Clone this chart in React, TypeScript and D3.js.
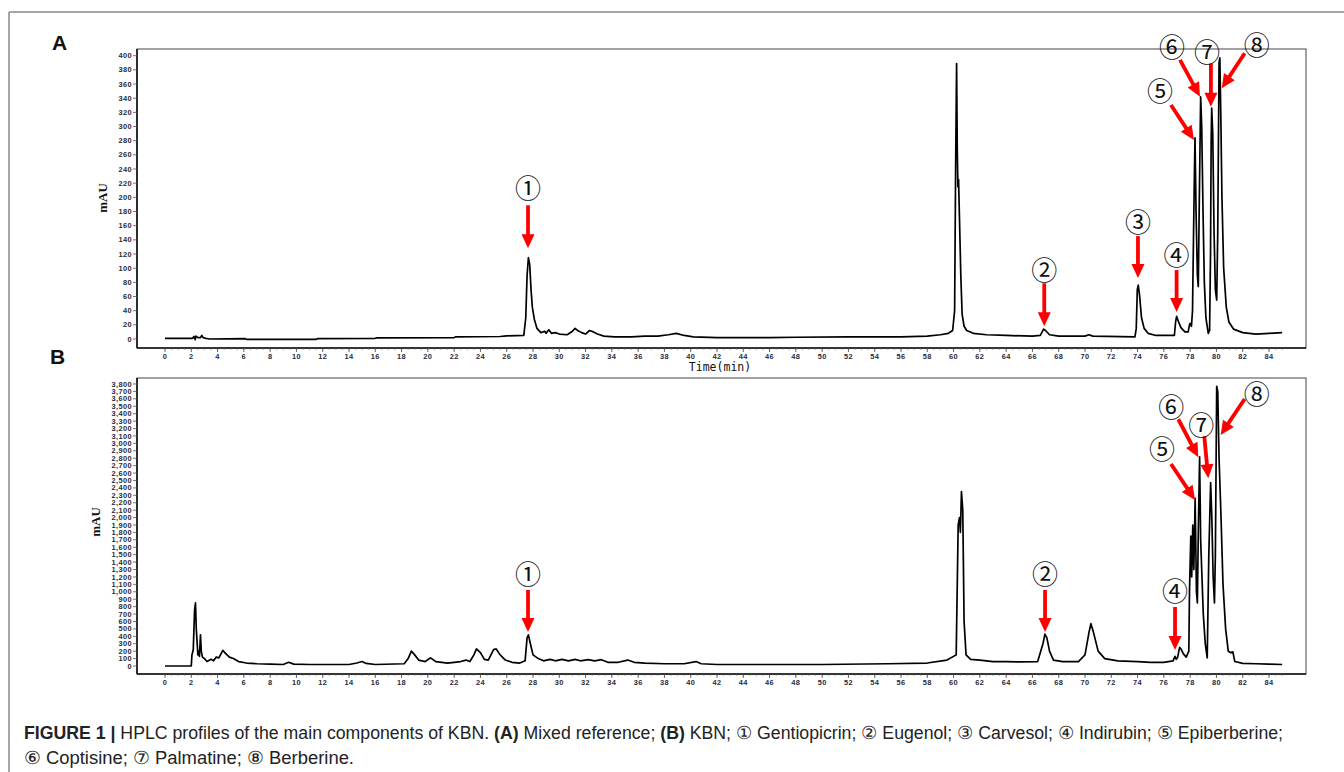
import React from "react";
import * as d3 from "d3";

// ---------- DATA ----------
const xTickLabels = [0,2,4,6,8,10,12,14,16,18,20,22,24,26,28,30,32,34,36,38,40,42,44,46,48,50,52,54,56,58,60,62,64,66,68,70,72,74,76,78,80,82,84];
const yTicksA = [0,20,40,60,80,100,120,140,160,180,200,220,240,260,280,300,320,340,360,380,400];
const yTicksB = [0,100,200,300,400,500,600,700,800,900,1000,1100,1200,1300,1400,1500,1600,1700,1800,1900,2000,2100,2200,2300,2400,2500,2600,2700,2800,2900,3000,3100,3200,3300,3400,3500,3600,3700,3800];

// Panel A: mixed reference, [time (min), mAU]
const traceA: [number, number][] = [
  [0,1],[2.1,1],[2.2,3.5],[2.3,-1],[2.35,4],[2.5,2],[2.7,2],[2.8,5],[2.9,2],[3.1,1],[3.4,0],
  [6.1,0.5],[6.2,-0.5],[11.5,-0.5],[11.6,0.5],[16,1],[16.1,1.5],[22,2],[22.1,3],[25.5,3.5],[26,4.5],
  [27.3,5],[27.45,30],[27.55,90],[27.65,115],[27.75,105],[27.85,70],[27.95,45],[28.1,28],[28.3,15],
  [28.6,9],[28.9,11],[29.0,8],[29.2,13],[29.4,8],[29.7,9],[30.0,7],[30.6,6],[31.0,11],[31.2,15],
  [31.4,12],[31.7,9],[32.0,7],[32.3,12],[32.6,10],[32.9,7],[33.4,4],[34.2,3],[35.5,3],[36.5,4],
  [37.5,4],[38.3,6],[38.9,8],[39.5,5],[40.2,3],[42,2],[46,2],[48,2.5],[52,3],[56,3],[58,4],[59,6],
  [59.6,8],[59.93,12],[60.08,40],[60.16,250],[60.23,389],[60.28,270],[60.33,215],[60.38,225],
  [60.45,170],[60.55,90],[60.65,35],[60.8,18],[61.0,12],[61.5,8],[62.5,6],[64,5],[66,4],[66.6,5],
  [66.85,14],[67.0,12],[67.3,6],[68,4],[70,4],[70.3,6],[70.6,4],[73.8,3],[73.9,15],[73.98,70],
  [74.05,76],[74.15,62],[74.3,30],[74.5,15],[74.8,8],[75.4,5],[76.8,5],[76.9,25],[76.97,32],
  [77.1,25],[77.3,16],[77.6,10],[77.85,10],[77.95,20],[78.0,22],[78.1,18],[78.18,40],[78.26,150],
  [78.33,240],[78.37,284],[78.45,180],[78.55,90],[78.62,74],[78.7,200],[78.8,342],[78.88,300],
  [78.98,180],[79.08,80],[79.2,30],[79.38,8],[79.48,12],[79.55,120],[79.6,280],[79.64,326],
  [79.72,290],[79.82,150],[79.92,70],[80.02,55],[80.1,150],[80.2,390],[80.26,397],[80.33,320],
  [80.42,200],[80.55,100],[80.75,45],[80.95,24],[81.3,14],[82,9],[83,7],[84,8],[85,9]
];

// Panel B: KBN sample, [time (min), mAU]
const traceB: [number, number][] = [
  [0,0],[2.0,0],[2.05,150],[2.15,220],[2.25,750],[2.32,850],[2.38,500],[2.45,300],[2.5,150],
  [2.55,200],[2.62,130],[2.7,420],[2.76,200],[2.85,120],[3.0,100],[3.2,60],[3.5,90],[3.7,70],
  [3.9,120],[4.1,110],[4.4,210],[4.6,170],[4.9,120],[5.2,100],[5.6,60],[6.2,40],[7,30],[8,25],
  [9,20],[9.4,50],[9.8,25],[11,20],[14,20],[14.6,40],[15.0,60],[15.3,35],[16,20],[18.2,30],
  [18.5,100],[18.75,200],[19.0,150],[19.3,80],[19.8,60],[20.2,110],[20.6,60],[21.5,40],[22.5,60],
  [22.9,80],[23.2,60],[23.5,150],[23.7,230],[24.0,180],[24.3,90],[24.6,80],[25.0,220],[25.2,230],
  [25.5,150],[25.9,80],[26.4,50],[27.0,40],[27.4,70],[27.55,380],[27.65,420],[27.8,300],[28.0,150],
  [28.4,100],[28.8,70],[29.3,90],[29.7,70],[30.2,90],[30.7,70],[31.2,90],[31.6,70],[32.2,85],
  [32.7,70],[33.2,85],[33.7,50],[34.5,50],[35.2,80],[35.7,50],[36.5,40],[38,30],[39.5,30],
  [40.4,60],[40.8,30],[42,20],[45,20],[50,20],[55,30],[58,40],[59.5,80],[60.2,150],[60.35,1900],
  [60.45,2000],[60.52,1800],[60.6,2350],[60.7,2100],[60.8,600],[60.95,150],[61.3,90],[62,80],
  [63,60],[64,60],[65,55],[66.4,60],[66.8,300],[66.95,430],[67.1,380],[67.3,200],[67.6,80],
  [68.3,60],[69.5,60],[70.0,150],[70.3,450],[70.45,570],[70.65,450],[71.0,200],[71.5,100],
  [72.5,70],[74,60],[75,50],[76,50],[76.7,70],[76.85,130],[76.95,90],[77.05,120],[77.2,250],
  [77.3,230],[77.5,160],[77.7,120],[77.9,200],[77.95,1000],[78.05,1750],[78.12,1200],[78.2,1900],
  [78.28,1300],[78.38,2260],[78.48,1000],[78.55,850],[78.62,1800],[78.72,2820],[78.8,1700],
  [78.9,1200],[79.0,700],[79.15,300],[79.3,110],[79.42,1500],[79.56,2470],[79.65,2000],
  [79.75,1200],[79.85,850],[79.92,1500],[80.02,3770],[80.1,3700],[80.2,2800],[80.35,2000],
  [80.5,1100],[80.7,500],[80.9,200],[81.1,180],[81.25,190],[81.4,60],[82,35],[83,30],[84,25],[85,20]
];

type Annot = { label: string; t: number; v: number; dx: number; dy: number; lx: number; ly: number };
const annotA: Annot[] = [
  { label: "①", t: 27.62, v: 128, dx: 0, dy: -43, lx: 0, ly: -19 },
  { label: "②", t: 66.9, v: 18, dx: 0, dy: -43, lx: 0, ly: -15 },
  { label: "③", t: 74.03, v: 86, dx: 0, dy: -42, lx: 0, ly: -16 },
  { label: "④", t: 76.97, v: 38, dx: 0, dy: -42, lx: 0, ly: -17 },
  { label: "⑤", t: 78.29, v: 281, dx: -23, dy: -35, lx: -11, ly: -15 },
  { label: "⑥", t: 78.75, v: 342, dx: -20, dy: -37, lx: -8, ly: -14 },
  { label: "⑦", t: 79.58, v: 328, dx: 0, dy: -43, lx: -4, ly: -13 },
  { label: "⑧", t: 80.4, v: 354, dx: 23, dy: -35, lx: 12, ly: -10 },
];
const annotB: Annot[] = [
  { label: "①", t: 27.62, v: 458, dx: 0, dy: -42, lx: 0, ly: -18 },
  { label: "②", t: 66.96, v: 458, dx: 0, dy: -42, lx: 0, ly: -18 },
  { label: "④", t: 76.85, v: 216, dx: 0, dy: -43, lx: 0, ly: -17 },
  { label: "⑤", t: 78.37, v: 2237, dx: -24, dy: -36, lx: -9, ly: -16 },
  { label: "⑥", t: 78.62, v: 2813, dx: -20, dy: -38, lx: -7, ly: -14 },
  { label: "⑦", t: 79.38, v: 2530, dx: -4, dy: -42, lx: -3, ly: -13 },
  { label: "⑧", t: 80.32, v: 3113, dx: 24, dy: -36, lx: 12, ly: -6 },
];

// ---------- LAYOUT ----------
const W = 1344, H = 772;
const frameL = 137, frameR = 1306;
const x = d3.scaleLinear().domain([0, 84]).range([165, 1269]);

const tickFont = "'Liberation Sans', Arial, sans-serif";
const circFont = "'Noto Sans CJK SC', 'DejaVu Sans', sans-serif";

function Arrow({ a, xs, ys }: { a: Annot; xs: (n: number) => number; ys: (n: number) => number }) {
  const tx = xs(a.t), ty = ys(a.v);
  const sx = tx + a.dx, sy = ty + a.dy;
  const len = Math.hypot(a.dx, a.dy);
  const ux = -a.dx / len, uy = -a.dy / len; // direction tail->tip
  const head = 14, half = 6.5;
  const bx = tx - ux * head, by = ty - uy * head;
  const px = -uy, py = ux;
  return (
    <g>
      <line x1={sx} y1={sy} x2={bx + ux * 1} y2={by + uy * 1} stroke="#f00" strokeWidth={3.8} />
      <polygon points={`${tx},${ty} ${bx + px * half},${by + py * half} ${bx - px * half},${by - py * half}`} fill="#f00" />
      <text x={sx + a.lx} y={sy + a.ly} textAnchor="middle" dominantBaseline="central" fontFamily={circFont} fontSize={26} fill="#111">{a.label}</text>
    </g>
  );
}

function Panel({ top, bottom, y0, yTop, ticks, yMax, data, annots, fmt, letter, letterX, letterY, labelX, labelY, showTime }: any) {
  const y = d3.scaleLinear().domain([0, yMax]).range([y0, yTop]);
  const line = d3.line<[number, number]>().x((d) => x(d[0])).y((d) => y(d[1])).curve(d3.curveLinear);
  const minor = d3.range(0, 85.01, 0.5);
  return (
    <g>
      <text x={letterX} y={letterY} fontFamily={tickFont} fontWeight="bold" fontSize={21} fill="#111">{letter}</text>
      <rect x={frameL} y={top} width={frameR - frameL} height={bottom - top} fill="none" stroke="#444" strokeWidth={1} />
      <line x1={frameL} y1={top} x2={frameL} y2={bottom} stroke="#111" strokeWidth={1.6} />
      <line x1={frameL} y1={bottom} x2={frameR} y2={bottom} stroke="#111" strokeWidth={1.6} />
      {ticks.map((t: number) => (
        <g key={t}>
          <line x1={frameL - 4} x2={frameL} y1={y(t)} y2={y(t)} stroke="#555" strokeWidth={0.8} />
          <text x={frameL - 5} y={y(t)} dy="0.35em" textAnchor="end" fontFamily={tickFont} fontWeight="bold" fontSize={7.4} letterSpacing={0.4} fill="#2a2a3a">{fmt(t)}</text>
        </g>
      ))}
      {minor.map((m) => (
        <line key={m} x1={x(m)} x2={x(m)} y1={bottom} y2={bottom + 2} stroke="#666" strokeWidth={0.6} />
      ))}
      {xTickLabels.map((t) => (
        <g key={t}>
          <line x1={x(t)} x2={x(t)} y1={bottom} y2={bottom + 4} stroke="#444" strokeWidth={0.8} />
          <text x={x(t)} y={bottom + 11} textAnchor="middle" fontFamily={tickFont} fontWeight="bold" fontSize={7.4} letterSpacing={0.4} fill="#2a2a3a">{t}</text>
        </g>
      ))}
      <text transform={`translate(${labelX},${labelY}) rotate(-90)`} textAnchor="middle" fontFamily="'Liberation Serif', serif" fontWeight="bold" fontSize={13} fill="#111">mAU</text>
      {showTime && (
        <text x={720} y={371} textAnchor="middle" fontFamily="'DejaVu Sans Mono', monospace" fontSize={11.5} fill="#111">Time(min)</text>
      )}
      <path d={line(data) || ""} fill="none" stroke="#000" strokeWidth={1.7} strokeLinejoin="round" />
      {annots.map((a: Annot, i: number) => <Arrow key={i} a={a} xs={x} ys={y} />)}
    </g>
  );
}

export default function App() {
  const capFont = "'Liberation Sans', Arial, sans-serif";
  return (
    <svg width={W} height={H} viewBox={`0 0 ${W} ${H}`} style={{ position: "absolute", left: 0, top: 0, background: "#fff" }}>
      <rect x={0} y={0} width={W} height={H} fill="#fff" />
      <line x1={9} y1={12} x2={W} y2={12} stroke="#888" strokeWidth={1.5} />
      <line x1={9} y1={12} x2={9} y2={H} stroke="#888" strokeWidth={1.5} />
      <Panel top={49} bottom={348} y0={339} yTop={55.7} ticks={yTicksA} yMax={400} data={traceA} annots={annotA}
        fmt={(t: number) => String(t)} letter="A" letterX={52} letterY={50} labelX={107} labelY={198} showTime={true} />
      <Panel top={378} bottom={674} y0={666} yTop={384} ticks={yTicksB} yMax={3800} data={traceB} annots={annotB}
        fmt={d3.format(",")} letter="B" letterX={50} letterY={364} labelX={100} labelY={522} showTime={false} />
      <text x={24} y={739} fontFamily={capFont} fontSize={17.5} fill="#222" textLength={1259} lengthAdjust="spacingAndGlyphs">
        <tspan fontWeight="bold">FIGURE 1 | </tspan>
        <tspan>HPLC profiles of the main components of KBN. </tspan>
        <tspan fontWeight="bold">(A)</tspan>
        <tspan> Mixed reference; </tspan>
        <tspan fontWeight="bold">(B)</tspan>
        <tspan> KBN; ① Gentiopicrin; ② Eugenol; ③ Carvesol; ④ Indirubin; ⑤ Epiberberine;</tspan>
      </text>
      <text x={24} y={764} fontFamily={capFont} fontSize={17.5} fill="#222" textLength={330} lengthAdjust="spacingAndGlyphs">⑥ Coptisine; ⑦ Palmatine; ⑧ Berberine.</text>
    </svg>
  );
}
